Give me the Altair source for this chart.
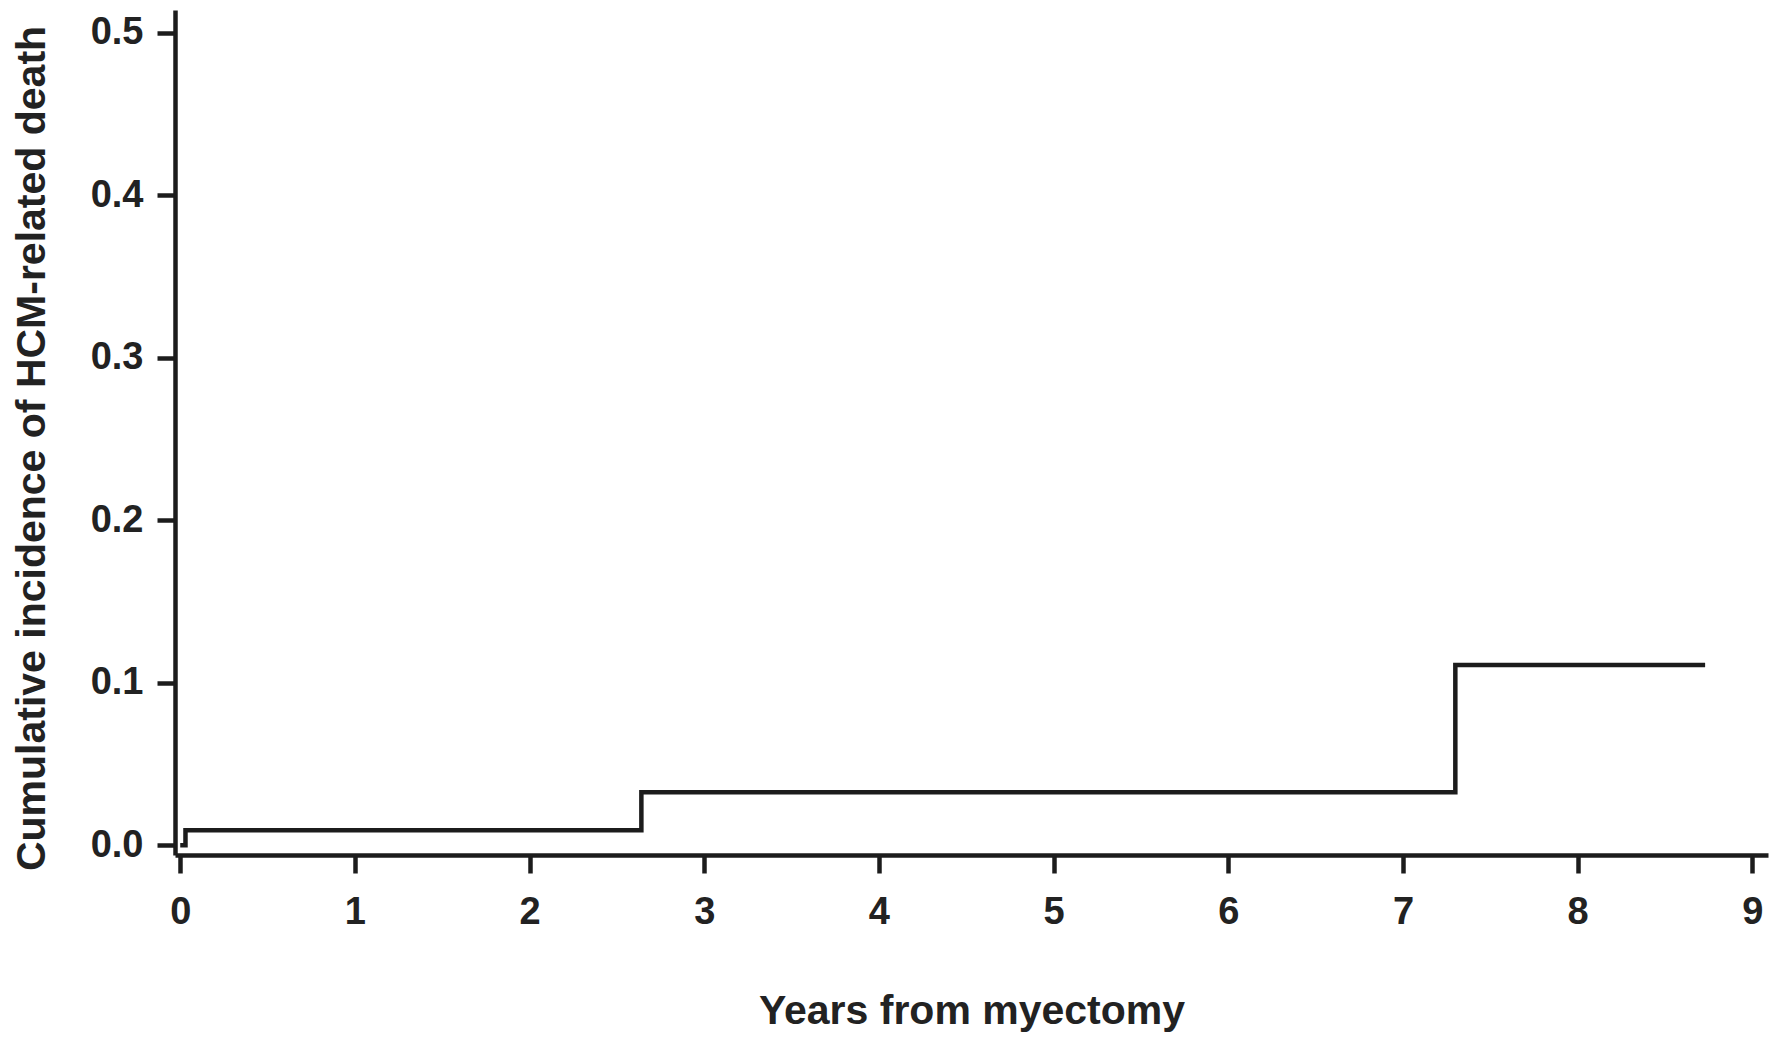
import altair as alt
import pandas as pd

# Step-function (cumulative incidence)
years = [0.0, 0.03, 2.64, 7.30, 8.73]
incidence = [0.0, 0.0092, 0.0326, 0.111, 0.111]

x_ticks = [0, 1, 2, 3, 4, 5, 6, 7, 8, 9]
y_ticks = [0.0, 0.1, 0.2, 0.3, 0.4, 0.5]

df = pd.DataFrame({"years": years, "incidence": incidence})

FONT = "Liberation Sans"
INK = "#1c1c1c"

line = alt.Chart(df).mark_line(
    interpolate="step-after", color=INK, strokeWidth=4.5, strokeJoin="miter"
).encode(
    x=alt.X(
        "years:Q",
        scale=alt.Scale(domain=[-0.03, 9.09], nice=False, zero=False),
        axis=alt.Axis(
            values=x_ticks,
            format="d",
            title="Years from myectomy",
            labelPadding=20,
            titleY=168,
            titleBaseline="alphabetic",
        ),
    ),
    y=alt.Y(
        "incidence:Q",
        scale=alt.Scale(domain=[-0.006, 0.514], nice=False, zero=False),
        axis=alt.Axis(
            values=y_ticks,
            format=".1f",
            title="Cumulative incidence of HCM-related death",
            labelPadding=14,
            titleAngle=270,
            titleX=-143,
            titleY=438,
            titleAlign="center",
            titleBaseline="middle",
        ),
    ),
)

chart = line.properties(
    width=1593,
    height=845,
    autosize=alt.AutoSizeParams(type="none"),
    padding={"left": 167, "top": 2, "right": 2, "bottom": 182},
).configure_view(stroke=None).configure_axis(
    grid=False,
    domainColor=INK,
    domainWidth=4.5,
    tickColor=INK,
    tickWidth=4.5,
    tickSize=18,
    labelFont=FONT,
    labelFontSize=38,
    labelFontWeight="bold",
    labelColor="#222222",
    titleFont=FONT,
    titleFontSize=41,
    titleFontWeight="bold",
    titleColor="#222222",
)

chart.save("out.html", embed_options={"renderer": "svg", "actions": False})
